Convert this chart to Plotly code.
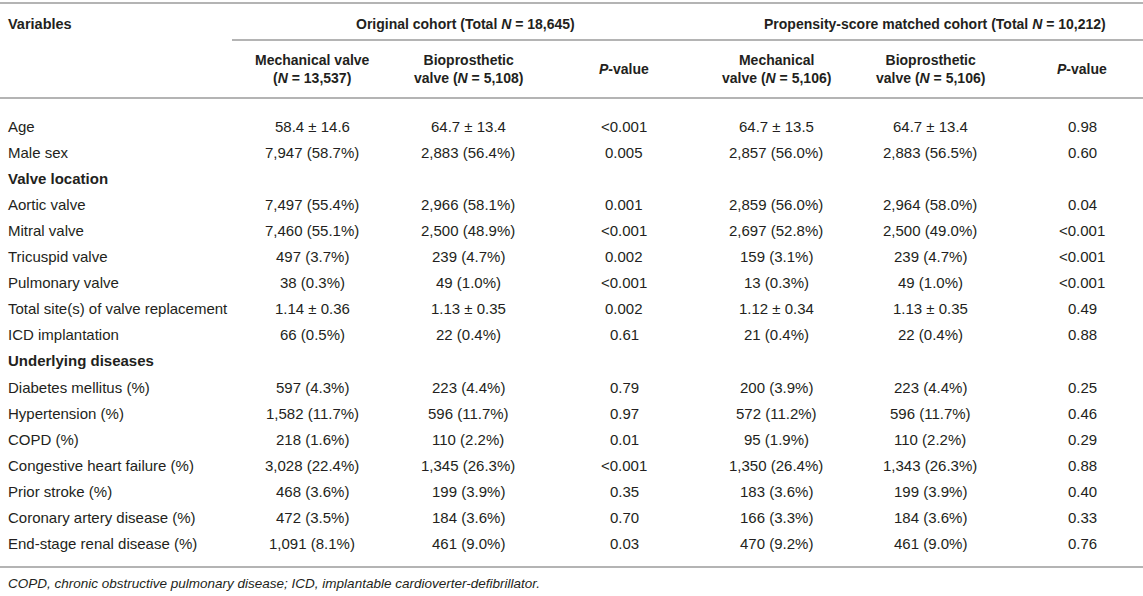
import plotly.graph_objects as go

# table contents
variables = ["Age", "Male sex", "Valve location", "Aortic valve", "Mitral valve",
             "Tricuspid valve", "Pulmonary valve", "Total site(s) of valve replacement",
             "ICD implantation", "Underlying diseases", "Diabetes mellitus (%)",
             "Hypertension (%)", "COPD (%)", "Congestive heart failure (%)",
             "Prior stroke (%)", "Coronary artery disease (%)", "End-stage renal disease (%)"]
section_rows = ["Valve location", "Underlying diseases"]

mech_orig = ["58.4 ± 14.6", "7,947 (58.7%)", "", "7,497 (55.4%)", "7,460 (55.1%)",
             "497 (3.7%)", "38 (0.3%)", "1.14 ± 0.36", "66 (0.5%)", "",
             "597 (4.3%)", "1,582 (11.7%)", "218 (1.6%)", "3,028 (22.4%)",
             "468 (3.6%)", "472 (3.5%)", "1,091 (8.1%)"]
bio_orig = ["64.7 ± 13.4", "2,883 (56.4%)", "", "2,966 (58.1%)", "2,500 (48.9%)",
            "239 (4.7%)", "49 (1.0%)", "1.13 ± 0.35", "22 (0.4%)", "",
            "223 (4.4%)", "596 (11.7%)", "110 (2.2%)", "1,345 (26.3%)",
            "199 (3.9%)", "184 (3.6%)", "461 (9.0%)"]
p_orig = ["<0.001", "0.005", "", "0.001", "<0.001", "0.002", "<0.001", "0.002", "0.61", "",
          "0.79", "0.97", "0.01", "<0.001", "0.35", "0.70", "0.03"]
mech_psm = ["64.7 ± 13.5", "2,857 (56.0%)", "", "2,859 (56.0%)", "2,697 (52.8%)",
            "159 (3.1%)", "13 (0.3%)", "1.12 ± 0.34", "21 (0.4%)", "",
            "200 (3.9%)", "572 (11.2%)", "95 (1.9%)", "1,350 (26.4%)",
            "183 (3.6%)", "166 (3.3%)", "470 (9.2%)"]
bio_psm = ["64.7 ± 13.4", "2,883 (56.5%)", "", "2,964 (58.0%)", "2,500 (49.0%)",
           "239 (4.7%)", "49 (1.0%)", "1.13 ± 0.35", "22 (0.4%)", "",
           "223 (4.4%)", "596 (11.7%)", "110 (2.2%)", "1,343 (26.3%)",
           "199 (3.9%)", "184 (3.6%)", "461 (9.0%)"]
p_psm = ["0.98", "0.60", "", "0.04", "<0.001", "<0.001", "<0.001", "0.49", "0.88", "",
         "0.25", "0.46", "0.29", "0.88", "0.40", "0.33", "0.76"]

group_headers = ["Original cohort (Total <i>N</i> = 18,645)",
                 "Propensity-score matched cohort (Total <i>N</i> = 10,212)"]
sub_headers = ["Mechanical valve<br>(<i>N</i> = 13,537)", "Bioprosthetic<br>valve (<i>N</i> = 5,108)",
               "<i>P</i>-value", "Mechanical<br>valve (<i>N</i> = 5,106)",
               "Bioprosthetic<br>valve (<i>N</i> = 5,106)", "<i>P</i>-value"]
footnote = "COPD, chronic obstructive pulmonary disease; ICD, implantable cardioverter-defibrillator."

# layout (pixel coordinates, y downwards)
W, H = 1143, 596
col_x = [312, 468, 624, 776, 930, 1082]
group_x = [465, 935]
row_y0, row_dy = 126, 26.1
txt = "#231f20"
rule = "#b4b4b4"
font = "Liberation Sans, Arial, sans-serif"

fig = go.Figure()
ann = []

def add_text(x, y, s, anchor="center", size=15):
    ann.append(dict(x=x, y=y, text=s, showarrow=False, xanchor=anchor, yanchor="middle",
                    align=anchor, font=dict(size=size, color=txt, family=font)))

add_text(6, 24, "<b>Variables</b>", anchor="left", size=14.5)
for gx, g in zip(group_x, group_headers):
    add_text(gx, 24, "<b>" + g + "</b>", size=14)
for cx, s in zip(col_x, sub_headers):
    add_text(cx, 69, "<b>" + s + "</b>", size=14)

columns = [mech_orig, bio_orig, p_orig, mech_psm, bio_psm, p_psm]
for i, var in enumerate(variables):
    y = row_y0 + i * row_dy
    if var in section_rows:
        add_text(6, y, "<b>" + var + "</b>", anchor="left")
    else:
        add_text(6, y, var, anchor="left")
    for cx, col in zip(col_x, columns):
        if col[i]:
            add_text(cx, y, col[i])

add_text(6, 583, "<i>" + footnote + "</i>", anchor="left", size=13.5)

lines = [(0, W, 3), (232, W, 40), (0, W, 98), (0, W, 567)]
for x0, x1, y in lines:
    fig.add_shape(type="line", x0=x0, x1=x1, y0=y, y1=y, xref="x", yref="y",
                  line=dict(color=rule, width=2))

fig.update_layout(width=W, height=H, margin=dict(l=0, r=0, t=0, b=0),
                  paper_bgcolor="white", plot_bgcolor="white", annotations=ann,
                  xaxis=dict(range=[0, W], visible=False, fixedrange=True),
                  yaxis=dict(range=[H, 0], visible=False, fixedrange=True),
                  showlegend=False)
# page body has an 8px default margin; drop it so the figure fills the window
fig.write_html("out.html", config={"displayModeBar": False},
               post_script="document.body.style.margin = '0px';")
